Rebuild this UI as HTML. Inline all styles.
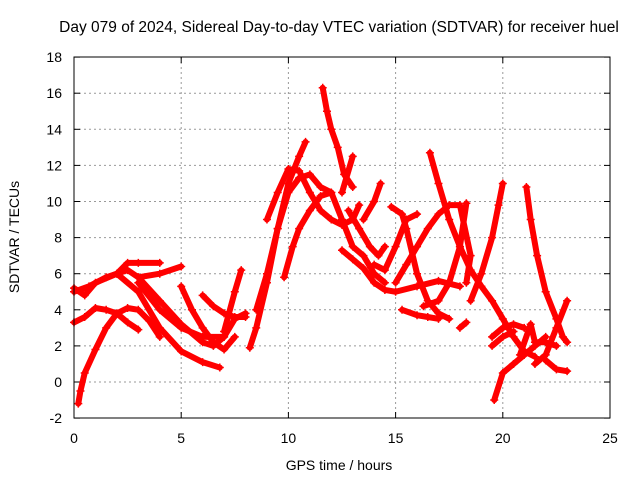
<!DOCTYPE html>
<html><head><meta charset="utf-8"><style>
body{margin:0;background:#fff}
svg{display:block;font-family:"Liberation Sans",sans-serif}
</style></head><body>
<svg id="c" width="640" height="480">
<rect width="640" height="480" fill="#fff"/>
<text x="339" y="32" font-size="15.5" text-anchor="middle">Day 079 of 2024, Sidereal Day-to-day VTEC variation (SDTVAR) for receiver huel</text>
<text x="339" y="470" font-size="14" text-anchor="middle">GPS time / hours</text>
<text x="19" y="237" font-size="14" text-anchor="middle" transform="rotate(-90 19 237)">SDTVAR / TECUs</text>
<g id="grid"></g><g id="marks"></g>
<rect x="74" y="57" width="536" height="361" fill="none" stroke="#000"/>
</svg>
<script>
const xTicks=[0,5,10,15,20,25];
const yTicks=[-2,0,2,4,6,8,10,12,14,16,18];
const tracks=[
[[0.2,0.3,0.5,1,1.5,2,2.5,3,3.5,4],[-1.2,-0.5,0.5,1.8,3,3.8,4.1,4,3.4,2.5]],
[[0,0.5,1,2,2.5,3,4],[5.2,4.8,5.5,6,6.6,6.6,6.6]],
[[0,0.7,1.5,2.5,3,4,5,6,6.5,7,7.5,8],[5,5.3,5.8,6.2,5.8,4.5,3.2,2.2,2,2.5,3.5,3.8]],
[[0,0.5,1,1.5,2,2.5,3],[3.3,3.6,4.1,4,3.8,3.3,2.9]],
[[2,3,4,5,6,6.8],[6,5,3,1.7,1.1,0.8]],
[[3,4,5,6,7],[5.5,4,3,2.5,2.5]],
[[5,5.5,6,6.5,7,7.5],[5.3,4,3,2.2,1.8,2.5]],
[[3,4,5],[5.8,6,6.4]],
[[6,6.5,7,7.5,8],[4.8,4.2,3.8,3.6,3.6]],
[[7,7.5,7.8],[2.8,5,6.2]],
[[8.2,8.5,9,9.5,10,10.5,11,11.5,12],[1.9,3,5.5,8.5,10.5,11.3,11.5,10.8,10.5]],
[[8.5,9,9.5,10,10.5,10.8],[4,6,8.5,11,12.5,13.3]],
[[9,9.5,10,10.5,11,11.5,12,12.5,13,13.3],[9,10.5,11.8,11.7,10.5,9.5,9,8.7,9,9.8]],
[[9.8,10.2,10.5,11,11.5,12,12.5,13,13.5,14,14.5],[5.8,7.5,8.5,9.5,10.3,10.5,9,7.5,7,6,5.5]],
[[11.6,11.8,12,12.3,12.6,13],[16.3,15,14,13,11.5,10.8]],
[[12.5,13],[10.5,12.5]],
[[12.5,13,13.5,14,14.5,15,16,17,18],[7.3,6.8,6.3,5.5,5.1,5,5.3,5.6,5.3]],
[[12.8,13.3,13.8,14.2,14.5],[9.5,8.5,7.5,7,7.5]],
[[13.5,14,14.3],[9,10,11]],
[[14,14.5,15,15.5,16],[6.5,6.2,7.5,9,9.3]],
[[14.8,15.3,15.5,16,16.5,17,17.5],[9.7,9.3,8.5,6,4.5,3.8,3.5]],
[[15.3,16,16.5,17],[4,3.7,3.6,3.5]],
[[16.6,17,17.5,18,18.5,19,19.5,20,20.5,21,21.5],[12.7,11,9,7.5,6.2,5.3,4.5,3.5,2.5,1.7,1.4]],
[[15,15.5,16,16.5,17,17.5,18,18.5,18.3],[5.5,6.5,7.5,8.5,9.3,9.8,9.8,7,5.5]],
[[16.3,17,17.5,18,18.3],[4.2,4.5,5.5,7.5,9.9]],
[[18,18.3],[3,3.3]],
[[18.5,19,19.5,19.8,20],[4.5,6,8,9.8,11]],
[[19.5,20,20.5,21],[2.5,3,3.2,3]],
[[19.6,20,20.5,21,21.5,22],[-1,0.5,1,1.5,2,2.5]],
[[21.1,21.3,21.6,22,22.5,22.8,23],[10.8,9,7,5,3.5,2.5,2.2]],
[[20.8,21.3,21.5,22,22.5],[1.5,3.2,2.2,2.2,2]],
[[21.5,22,22.5,23],[1,1.5,3,4.5]],
[[22,22.5,23],[1.2,0.7,0.6]],
[[19.5,20,20.5],[2,2.5,2.8]]
];
const X=v=>74+v*536/25, Y=v=>382-v*361/20;
const NS="http://www.w3.org/2000/svg";
const g=document.getElementById('grid'), m=document.getElementById('marks');
function mk(t,a,p){const e=document.createElementNS(NS,t);for(const k in a)e.setAttribute(k,a[k]);p.appendChild(e);return e;}
xTicks.forEach(v=>{
 if(v>0&&v<25){const l=mk('line',{x1:X(v),x2:X(v),y1:57,y2:418,stroke:'#999','stroke-dasharray':'2,3'},g);
 
 }
 mk('line',{x1:X(v),x2:X(v),y1:418,y2:412,stroke:'#000'},g);mk('line',{x1:X(v),x2:X(v),y1:57,y2:63,stroke:'#000'},g);
 const t=mk('text',{x:X(v),y:443,'font-size':14,'text-anchor':'middle'},g);t.textContent=v;
 
 
});
yTicks.forEach(v=>{
 if(v>-2&&v<18){const l=mk('line',{x1:74,x2:610,y1:Y(v),y2:Y(v),stroke:'#999','stroke-dasharray':'2,3'},g);
 
 }
 mk('line',{x1:74,x2:80,y1:Y(v),y2:Y(v),stroke:'#000'},g);mk('line',{x1:610,x2:604,y1:Y(v),y2:Y(v),stroke:'#000'},g);
 const t=mk('text',{x:62,y:Y(v)+5,'font-size':14,'text-anchor':'end'},g);t.textContent=v;
 
 
});
tracks.forEach((tr,i)=>{
 const pts=tr[0].map((x,j)=>X(x)+','+Y(tr[1][j])).join(' ');
 const p=mk('polyline',{points:pts,fill:'none',stroke:'#f00','stroke-width':6,'stroke-linejoin':'round','stroke-linecap':'round'},m);
 
 
 tr[0].forEach((x,j)=>{
  const c=mk('path',{d:`M${X(x)-4},${Y(tr[1][j])}h8M${X(x)},${Y(tr[1][j])-4}v8`,stroke:'#f00','stroke-width':1.5},m);
  
  
 });
});
</script>
</body></html>
